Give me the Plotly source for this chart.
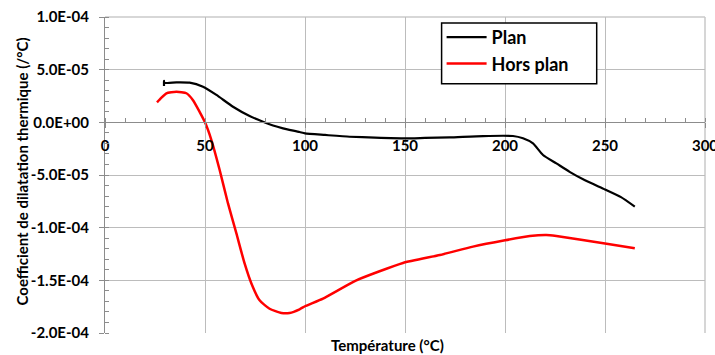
import plotly.graph_objects as go

# ---- data ----
plan_x = [29.5, 29.5, 29.6, 35.7, 42.3, 49.0, 55.7, 64.0, 72.3, 79.0, 84.0, 89.0, 97.3, 100.0,
          110.0, 122.3, 135.0, 150.0, 160.0, 172.3, 189.0, 204.0, 209.0, 214.0, 219.0,
          225.7, 232.3, 240.0, 250.0, 258.0, 264.9]
plan_y = [3.45e-5, 3.95e-5, 3.75e-5, 3.8e-5, 3.77e-5, 3.38e-5, 2.6e-5, 1.48e-5, 6.0e-6, 6e-7,
          -3.0e-6, -5.7e-6, -9.2e-6, -1.05e-5, -1.2e-5, -1.37e-5, -1.45e-5, -1.52e-5,
          -1.48e-5, -1.43e-5, -1.3e-5, -1.3e-5, -1.52e-5, -2.0e-5, -3.1e-5, -3.9e-5,
          -4.7e-5, -5.5e-5, -6.37e-5, -7.1e-5, -8.0e-5]

hors_x = [26.0, 28.0, 30.7, 35.7, 40.7, 44.0, 47.3, 50.0, 53.2, 57.3, 61.5, 65.7, 69.8, 73.2,
          77.3, 82.3, 88.2, 92.3, 97.3, 100.0, 109.0, 125.7, 149.0, 167.4, 184.0, 200.0,
          212.4, 220.7, 225.7, 250.0, 264.9]
hors_y = [1.9e-5, 2.3e-5, 2.76e-5, 2.9e-5, 2.76e-5, 2.1e-5, 1.0e-5, 0.0, -1.68e-5, -4.5e-5,
          -7.7e-5, -1.055e-4, -1.34e-4, -1.53e-4, -1.69e-4, -1.77e-4, -1.81e-4, -1.81e-4,
          -1.775e-4, -1.746e-4, -1.673e-4, -1.5e-4, -1.335e-4, -1.26e-4, -1.18e-4,
          -1.12e-4, -1.08e-4, -1.07e-4, -1.08e-4, -1.15e-4, -1.195e-4]

y_tick_vals = [1.0e-4, 5.0e-5, 0.0, -5.0e-5, -1.0e-4, -1.5e-4, -2.0e-4]
y_tick_text = ["1.0E-04", "5.0E-05", "0.0E+00", "-5.0E-05", "-1.0E-04", "-1.5E-04", "-2.0E-04"]
x_tick_vals = [0, 50, 100, 150, 200, 250, 300]
x_tick_text = ["0", "50", "100", "150", "200", "250", "300"]

FONT = "Lato"
x_range = [0, 300]
y_range = [-2.0e-4, 1.0e-4]
GRID = "#bcbcbc"

fig = go.Figure()
fig.add_trace(go.Scatter(x=plan_x, y=plan_y, mode="lines", name="Plan",
                         line=dict(color="black", width=2.2, shape="spline", smoothing=0.5)))
fig.add_trace(go.Scatter(x=hors_x, y=hors_y, mode="lines", name="Hors plan",
                         line=dict(color="#ff0000", width=2.5, shape="spline", smoothing=0.5)))

tick_font = dict(family=FONT, size=15, color="black", weight="bold")

fig.update_layout(
    width=715, height=355,
    margin=dict(l=105, r=10, t=17, b=22, autoexpand=False),
    paper_bgcolor="white", plot_bgcolor="white",
    font=dict(family=FONT, color="black"),
    showlegend=True,
    legend=dict(x=0.561, y=0.994, xanchor="left", yanchor="top",
                borderwidth=0, bgcolor="rgba(0,0,0,0)",
                font=dict(family=FONT, size=18, color="black", weight="bold"),
                tracegroupgap=0, itemwidth=40),
    shapes=[
        # frame lines at the top and right edges of the plot area
        dict(type="line", xref="paper", yref="paper", x0=0, x1=1, y0=1, y1=1,
             line=dict(color="#b0b0b0", width=1.2), layer="below"),
        dict(type="line", xref="paper", yref="paper", x0=1, x1=1, y0=0, y1=1,
             line=dict(color="#c8c8c8", width=1.5), layer="below"),
        # legend box
        dict(type="rect", xref="paper", yref="paper",
             x0=0.561, x1=0.8195, y0=0.7885, y1=0.981,
             line=dict(color="black", width=1.5), fillcolor="white", layer="above"),
    ],
    xaxis=dict(range=x_range, tickvals=x_tick_vals, ticktext=x_tick_text,
               anchor="free", position=(0 - y_range[0]) / (y_range[1] - y_range[0]),
               automargin=False,
               showline=True, linecolor="#8c8c8c", linewidth=1,
               showgrid=True, gridcolor=GRID, gridwidth=1,
               zeroline=False, ticks="outside", ticklen=5, tickcolor="#8c8c8c",
               ticklabelstandoff=5, ticklabeloverflow="allow",
               tickfont=tick_font,
               minor=dict(dtick=10, ticks="inside", ticklen=4, tickcolor="#8c8c8c",
                          showgrid=False)),
    yaxis=dict(range=y_range, tickvals=y_tick_vals, ticktext=y_tick_text,
               automargin=False,
               showline=True, linecolor="#8c8c8c", linewidth=1,
               showgrid=True, gridcolor=GRID, gridwidth=1,
               zeroline=False, ticks="outside", ticklen=5, tickcolor="#8c8c8c",
               ticklabelstandoff=7, ticklabeloverflow="allow",
               tickfont=tick_font,
               minor=dict(dtick=1e-5, ticks="inside", ticklen=4, tickcolor="#8c8c8c",
                          showgrid=False)),
    annotations=[
        dict(text="Coefficient de dilatation thermique (/°C)", xref="paper", yref="paper",
             x=-0.139, y=0.51, textangle=-90, showarrow=False, xanchor="center", yanchor="middle",
             font=dict(family=FONT, size=15, color="black", weight="bold")),
        dict(text="Température (°C)", xref="paper", yref="paper",
             x=0.47, y=-0.037, showarrow=False, xanchor="center", yanchor="middle",
             font=dict(family=FONT, size=15, color="black", weight="bold")),
    ],
)

fig.write_html("out.html", config={"displayModeBar": False},
               post_script="document.body.style.margin='0';")
